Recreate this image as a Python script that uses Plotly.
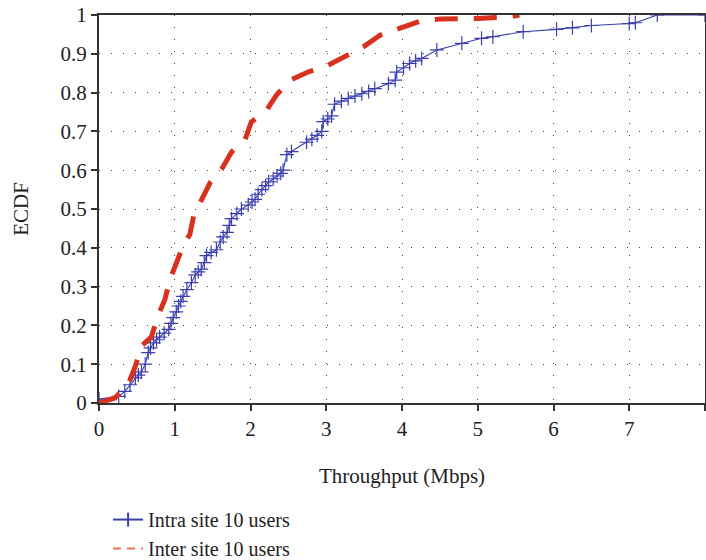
import plotly.graph_objects as go

# Intra site 10 users (blue, + markers)
intra_x = [0.00, 0.26, 0.34, 0.41, 0.48, 0.52, 0.56, 0.61, 0.65, 0.68, 0.72, 0.76, 0.80, 0.86, 0.92, 0.95,
           0.98, 1.02, 1.05, 1.08, 1.11, 1.16, 1.22, 1.27, 1.31, 1.35, 1.39, 1.42, 1.48, 1.55, 1.60,
           1.64, 1.69, 1.72, 1.75, 1.82, 1.88, 1.97, 2.02, 2.06, 2.10, 2.15, 2.20, 2.24, 2.30, 2.35, 2.40, 2.43,
           2.48, 2.54, 2.74, 2.81, 2.88, 2.94, 2.96, 3.02, 3.07, 3.11, 3.20, 3.29, 3.38, 3.47,
           3.56, 3.64, 3.82, 3.91, 3.93, 4.02, 4.10, 4.18, 4.26, 4.46, 4.79, 5.05, 5.20,
           5.60, 6.04, 6.25, 6.50, 7.00, 7.08, 7.37, 8.00]
intra_y = [0.010, 0.017, 0.030, 0.047, 0.065, 0.072, 0.080, 0.100, 0.130, 0.142, 0.155, 0.163, 0.170, 0.180, 0.190, 0.205,
           0.220, 0.235, 0.250, 0.262, 0.275, 0.292, 0.310, 0.330, 0.338, 0.345, 0.362, 0.380, 0.388, 0.395, 0.415,
           0.428, 0.440, 0.458, 0.475, 0.488, 0.500, 0.510, 0.518, 0.525, 0.538, 0.550, 0.560, 0.570, 0.578, 0.585, 0.592, 0.600,
           0.640, 0.648, 0.672, 0.680, 0.690, 0.700, 0.725, 0.732, 0.740, 0.770, 0.778, 0.785, 0.791, 0.797,
           0.803, 0.810, 0.823, 0.832, 0.853, 0.864, 0.875, 0.882, 0.888, 0.910, 0.927, 0.940, 0.944,
           0.957, 0.963, 0.967, 0.973, 0.978, 0.980, 1.000, 1.000]

# Inter site 10 users (red, dashed)
inter_x = [0.00, 0.21, 0.39, 0.48, 0.56, 0.69, 0.78, 0.87, 0.94, 1.00, 1.11, 1.20, 1.25, 1.36, 1.47, 1.62,
           1.75, 1.93, 2.01, 2.21, 2.34, 2.52, 2.76, 3.03, 3.27, 3.49, 3.71, 3.97, 4.24, 4.52, 5.00, 5.45, 5.55]
inter_y = [0.000, 0.013, 0.050, 0.095, 0.147, 0.170, 0.225, 0.267, 0.320, 0.353, 0.405, 0.435, 0.483, 0.526, 0.569, 0.603,
           0.647, 0.680, 0.724, 0.754, 0.793, 0.832, 0.853, 0.871, 0.897, 0.918, 0.948, 0.966, 0.984, 0.990, 0.991, 0.996, 1.000]

x_ticks = [0, 1, 2, 3, 4, 5, 6, 7, 8]
y_ticks = [0, 0.1, 0.2, 0.3, 0.4, 0.5, 0.6, 0.7, 0.8, 0.9, 1]
y_labels = ["0", "0.1", "0.2", "0.3", "0.4", "0.5", "0.6", "0.7", "0.8", "0.9", "1"]

FONT = "Liberation Serif"
BLUE = "#3b3fae"
RED = "#d8321f"

fig = go.Figure()
fig.add_trace(go.Scatter(
    x=intra_x, y=intra_y, mode="lines+markers", name="Intra site 10 users",
    line=dict(color=BLUE, width=1.1),
    marker=dict(symbol="cross-thin", size=10, line=dict(color=BLUE, width=1.2)),
    showlegend=False,
))
fig.add_trace(go.Scatter(
    x=inter_x, y=inter_y, mode="lines", name="Inter site 10 users",
    line=dict(color=RED, width=5, dash="23px,16px"),
    showlegend=False,
))
# legend entries (thin samples as in the reference)
fig.add_trace(go.Scatter(
    x=[None], y=[None], mode="lines+markers", name="Intra site 10 users",
    line=dict(color=BLUE, width=2),
    marker=dict(symbol="line-ns", size=10, line=dict(color=BLUE, width=2)),
))
fig.add_trace(go.Scatter(
    x=[None], y=[None], mode="lines", name="Inter site 10 users",
    line=dict(color="#e8705a", width=2, dash="8px,6px"),
))

axis_common = dict(
    showline=True, linecolor="#333", linewidth=2, mirror=True,
    ticks="outside", ticklen=6, tickwidth=2, tickcolor="#333",
    showgrid=True, gridcolor="#444", gridwidth=1, griddash="1px,11px",
    zeroline=False, automargin=False,
    tickfont=dict(family=FONT, size=21, color="#222"),
)

fig.update_xaxes(range=[0, 8], tickvals=x_ticks,
                 title=dict(text="Throughput (Mbps)", font=dict(family=FONT, size=21, color="#222"), standoff=28),
                 **axis_common)
fig.update_yaxes(range=[0, 1], tickvals=y_ticks, ticktext=y_labels,
                 title=dict(text="ECDF", font=dict(family=FONT, size=21, color="#222"), standoff=26),
                 **axis_common)

fig.update_layout(
    width=706, height=560,
    margin=dict(l=99, r=1, t=15, b=157, autoexpand=False),
    plot_bgcolor="white", paper_bgcolor="white",
    showlegend=True,
    legend=dict(x=0.015, y=0.107, xref="paper", yref="container", xanchor="left", yanchor="top",
                font=dict(family=FONT, size=20, color="#222"),
                bgcolor="rgba(0,0,0,0)", tracegroupgap=0),
    font=dict(family=FONT),
)

fig.write_html("out.html")
